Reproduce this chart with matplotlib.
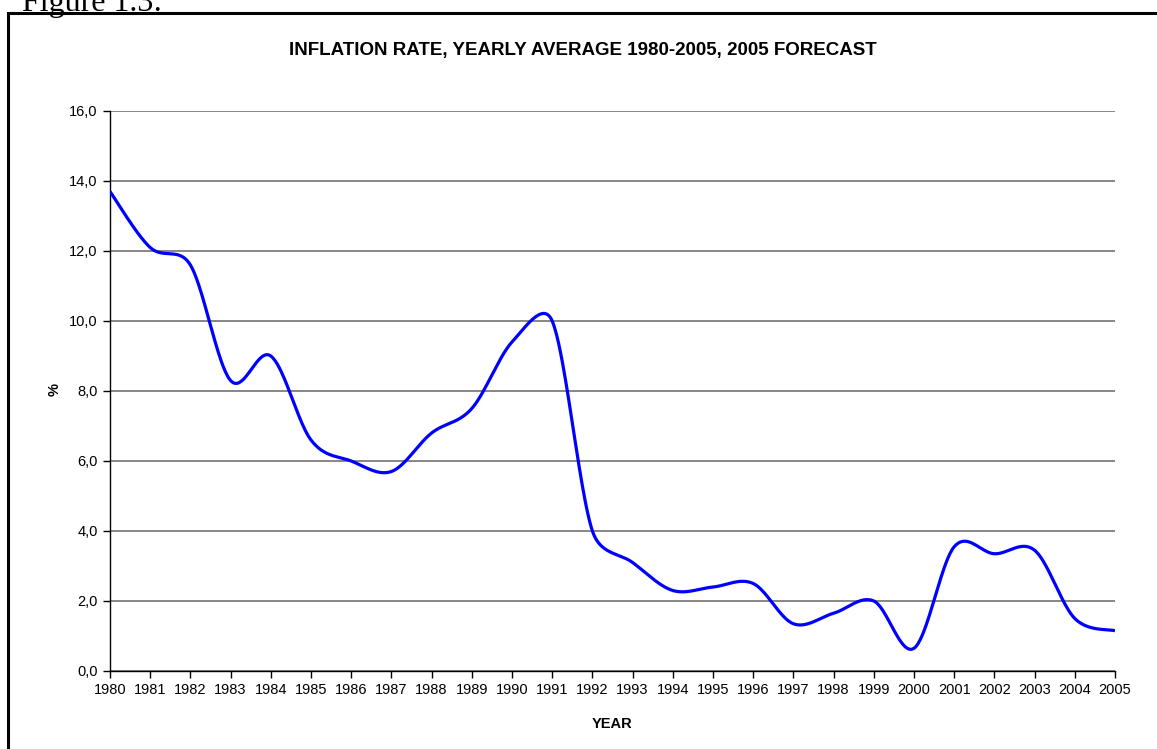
import numpy as np
import matplotlib
matplotlib.use("Agg")
import matplotlib.pyplot as plt
from matplotlib.patches import Rectangle
from matplotlib.ticker import FuncFormatter

years = list(range(1980, 2006))
inflation = [13.7, 12.1, 11.6, 8.3, 9.0, 6.6, 6.0, 5.7, 6.8, 7.5,
             9.4, 10.0, 4.0, 3.1, 2.3, 2.4, 2.5, 1.35, 1.65, 2.0,
             0.65, 3.55, 3.35, 3.45, 1.5, 1.15]
yticks = [0, 2, 4, 6, 8, 10, 12, 14, 16]

title = "INFLATION RATE, YEARLY AVERAGE 1980-2005, 2005 FORECAST"


def smooth(x, y, sx=40.2, sy=35.0, n=40):
    # Excel-style smoothing: Bezier segments, Catmull-Rom tangents capped to
    # half the adjacent chord length (computed in screen proportions)
    x = np.asarray(x, float) * sx
    y = np.asarray(y, float) * sy
    P = np.column_stack([x, y])
    m = len(P)
    cout = np.zeros_like(P)
    cin = np.zeros_like(P)
    for i in range(m):
        prev = P[max(i - 1, 0)]
        nxt = P[min(i + 1, m - 1)]
        T = (nxt - prev) / 6.0
        tl = np.hypot(*T)
        if i < m - 1:
            d = np.hypot(*(P[i + 1] - P[i])) / 2
            s = min(1.0, d / tl) if tl > 0 else 0
            cout[i] = P[i] + T * s
        if i > 0:
            d = np.hypot(*(P[i] - P[i - 1])) / 2
            s = min(1.0, d / tl) if tl > 0 else 0
            cin[i] = P[i] - T * s
    t = np.linspace(0, 1, n)[:, None]
    segs = []
    for i in range(m - 1):
        b = ((1 - t) ** 3 * P[i] + 3 * (1 - t) ** 2 * t * cout[i]
             + 3 * (1 - t) * t ** 2 * cin[i + 1] + t ** 3 * P[i + 1])
        segs.append(b if i == 0 else b[1:])
    B = np.vstack(segs)
    return B[:, 0] / sx, B[:, 1] / sy


plt.rcParams['font.family'] = ['Liberation Sans', 'DejaVu Sans']

W, H = 1157, 749
fig = plt.figure(figsize=(W / 100, H / 100), dpi=100)

# outer border box
fig.patches.append(Rectangle((8 / W, -0.05), 1.2, 1 - 13 / H + 0.05,
                             transform=fig.transFigure, fill=False,
                             edgecolor='black', linewidth=2.2))
fig.text(22 / W, 1 - 11 / H, "Figure 1.3:", family=['Liberation Serif'],
         fontsize=23, va='baseline', ha='left')

ax = fig.add_axes([110 / W, 1 - 671 / H, (1115 - 110) / W, (671 - 111) / H])
sx, sy = smooth(years, inflation)
ax.plot(sx, sy, color='#0000FF', linewidth=2.3, solid_capstyle='butt', zorder=3)

ax.set_xlim(years[0], years[-1])
ax.set_ylim(0, 16)
ax.set_yticks(yticks)
ax.yaxis.set_major_formatter(FuncFormatter(lambda v, p: f"{v:.1f}".replace('.', ',')))
ax.set_xticks(years)
ax.set_xticklabels([str(y) for y in years])
ax.tick_params(axis='both', direction='out', length=5, width=1, color='black',
               labelsize=10.5, pad=4)
ax.yaxis.grid(True, color='#666666', linewidth=1.1)
ax.set_axisbelow(True)
for s in ['top', 'right']:
    ax.spines[s].set_visible(False)
for s in ['left', 'bottom']:
    ax.spines[s].set_color('black')
    ax.spines[s].set_linewidth(1.0)

fig.text(583 / W, 1 - 51 / H, title, ha='center', va='center',
         fontsize=13.5, fontweight='bold')
fig.text(612 / W, 1 - 723.5 / H, "YEAR", ha='center', va='center',
         fontsize=10.5, fontweight='bold')
fig.text(55 / W, 1 - 390 / H, "%", ha='center', va='center', rotation=90,
         fontsize=10.5, fontweight='bold')

fig.savefig("out.png", dpi=100)
